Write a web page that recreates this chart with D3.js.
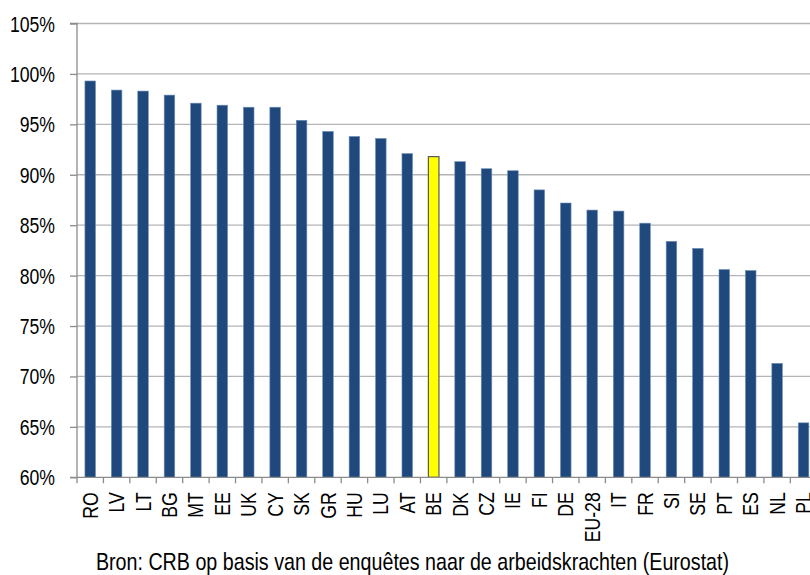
<!DOCTYPE html>
<html><head><meta charset="utf-8">
<script src="https://cdn.jsdelivr.net/npm/d3@7"></script>
<style>
html,body{margin:0;padding:0;background:#fff;overflow:hidden;}
svg text{font-family:"Liberation Sans",Arial,sans-serif;fill:#000;}
</style></head>
<body><svg id="c" width="810" height="575"></svg>
<script>
const categories = ["RO","LV","LT","BG","MT","EE","UK","CY","SK","GR","HU","LU","AT","BE","DK","CZ","IE","FI","DE","EU-28","IT","FR","SI","SE","PT","ES","NL","PL"];
const values = [99.3,98.4,98.3,97.9,97.1,96.9,96.7,96.7,95.4,94.3,93.8,93.6,92.1,91.8,91.3,90.6,90.4,88.5,87.2,86.5,86.4,85.2,83.4,82.7,80.6,80.5,71.3,65.4];
const highlight = ["BE"];
const yTicks = [60,65,70,75,80,85,90,95,100,105];
const source = "Bron: CRB op basis van de enquêtes naar de arbeidskrachten (Eurostat)";

(function(){
const svg = d3.select("#c");
const narrow = 0.82;
const mLeft = 77, mTop = 23.5, mBottom = 477.3, mRight = 77 + 28*26.42;
const x = d3.scaleBand().domain(categories).range([mLeft, mRight]).paddingInner(0).paddingOuter(0);
const y = d3.scaleLinear().domain([60,105]).range([mBottom, mTop]);

// gridlines
svg.append("g").selectAll("line").data(yTicks.filter(t=>t>60)).join("line")
  .attr("x1", mLeft).attr("x2", 810).attr("y1", d=>y(d)).attr("y2", d=>y(d))
  .attr("stroke", "#b4b4b4").attr("stroke-width", 1.3);

// y axis
const ya = svg.append("g").attr("transform", `translate(${mLeft},0)`)
  .call(d3.axisLeft(y).tickValues(yTicks).tickFormat(d=>d+"%").tickSize(7).tickPadding(22));
ya.select(".domain").attr("stroke", "#8c8c8c").attr("stroke-width", 1.3).attr("d", `M-7,${mTop}H0V${mBottom}`);
ya.selectAll(".tick line").attr("stroke", "#8c8c8c").attr("stroke-width", 1.3);
ya.selectAll(".tick text").attr("font-size", 21.5).attr("x", 0).attr("dy", "0.35em")
  .attr("transform", `translate(-22,0) scale(${narrow},1)`);

// bars
const bw = x.bandwidth()*0.4;
svg.append("g").selectAll("rect").data(categories.map((c,i)=>({c, v: values[i]}))).join("rect")
  .attr("x", d=>x(d.c) + (x.bandwidth()-bw)/2)
  .attr("y", d=>y(d.v))
  .attr("width", bw)
  .attr("height", d=>mBottom - y(d.v))
  .attr("fill", d=>highlight.includes(d.c) ? "#ffff00" : "#1f497d")
  .attr("stroke", d=>highlight.includes(d.c) ? "#5a5a5a" : "#6f8fb8")
  .attr("stroke-width", d=>highlight.includes(d.c) ? 1.2 : 0.6);

// x axis
const xa = svg.append("g").attr("transform", `translate(0,${mBottom})`)
  .call(d3.axisBottom(x).tickSize(0).tickFormat(d=>d));
xa.select(".domain").attr("stroke", "#8c8c8c").attr("stroke-width", 1.3).attr("d", `M${mLeft-7},0H810`);
xa.selectAll(".tick text")
  .attr("font-size", 21.5)
  .attr("text-anchor", "end")
  .attr("x", 0).attr("y", 0).attr("dy", "0.35em")
  .attr("transform", `translate(0,15) rotate(-90) scale(${narrow},1)`);
// category separator ticks
svg.append("g").selectAll("line").data(categories).join("line")
  .attr("x1", d=>x(d)).attr("x2", d=>x(d))
  .attr("y1", mBottom).attr("y2", mBottom+6)
  .attr("stroke", "#8c8c8c").attr("stroke-width", 1.3);

svg.append("text").attr("x", 0).attr("y", 0).attr("text-anchor", "middle")
  .attr("font-size", 24).attr("transform", `translate(412.5,570) scale(${narrow},1)`).text(source);
})();
</script></body></html>
